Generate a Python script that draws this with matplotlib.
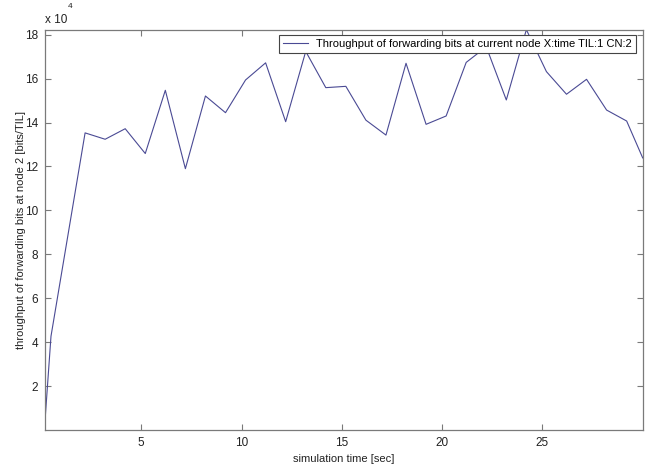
import numpy as np
import matplotlib
matplotlib.use("Agg")
import matplotlib.pyplot as plt
from matplotlib.ticker import FuncFormatter

# simulation time [sec]
tempo = [0.2, 0.5, 2.2, 3.2, 4.2, 5.2, 6.2, 7.2, 8.2, 9.2, 10.2, 11.2, 12.2,
         13.2, 14.2, 15.2, 16.2, 17.2, 18.2, 19.2, 20.2, 21.2, 22.2, 23.2,
         24.2, 25.2, 26.2, 27.2, 28.2, 29.2, 30.0]

# throughput [bits/TIL]
vazao = [4000, 42700, 135300, 132400, 137200, 125900, 154700, 119000, 152100,
         144500, 159400, 167200, 140400, 172400, 155900, 156500, 141100,
         134300, 167000, 139200, 143000, 167400, 174500, 150300, 182300,
         163200, 152900, 159700, 145700, 140700, 123900]

yticks = [20000, 40000, 60000, 80000, 100000, 120000, 140000, 160000, 180000]
xticks = [5, 10, 15, 20, 25]

plt.rcParams['font.family'] = ['Liberation Sans', 'DejaVu Sans']
plt.rcParams['font.size'] = 8

fig = plt.figure(figsize=(6.49, 4.66), dpi=100)
ax = fig.add_axes([0.0693, 0.0773, 0.921, 0.859])

ax.plot(tempo, vazao, color="#4a4a94", linewidth=0.8,
        label="Throughput of forwarding bits at current node X:time TIL:1 CN:2")

ax.set_xlim(tempo[0], tempo[-1])
ax.set_ylim(0, max(vazao))
ax.set_xticks(xticks)
ax.set_yticks(yticks)
ax.yaxis.set_major_formatter(FuncFormatter(lambda v, p: "%d" % round(v / 1e4)))

for lado in ax.spines.values():
    lado.set_color("#7a7a7a")
    lado.set_linewidth(0.9)
ax.tick_params(direction="in", length=4, width=0.8, color="#7a7a7a",
               top=True, right=True, labelsize=8.5, labelcolor="#222222", pad=5)

ax.set_xlabel("simulation time [sec]", fontsize=8, color="#222222", labelpad=4)
ax.set_ylabel("throughput of forwarding bits at node 2 [bits/TIL]", fontsize=8,
              color="#222222", labelpad=-1)

# factor de escala no topo
ax.text(0.0, 1.017, "x 10", transform=ax.transAxes, fontsize=8.5, color="#222222",
        ha="left", va="baseline")
ax.text(0.038, 1.053, "4", transform=ax.transAxes, fontsize=6, color="#222222",
        ha="left", va="baseline")

leg = ax.legend(loc="upper right", bbox_to_anchor=(0.989, 0.987), fontsize=8,
                fancybox=False, framealpha=1, edgecolor="#444444",
                handlelength=2.2, borderpad=0.35, borderaxespad=0)
leg.get_frame().set_linewidth(0.8)

fig.savefig("out.png", dpi=100)
